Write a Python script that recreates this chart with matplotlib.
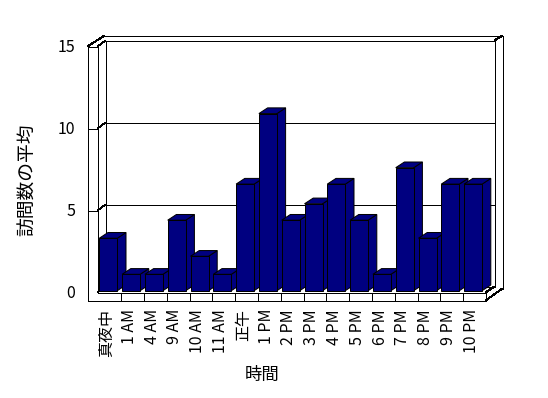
import math
import matplotlib.pyplot as plt
from matplotlib.patches import Polygon

plt.rcParams['font.family'] = ['Noto Sans CJK JP', 'DejaVu Sans']

# data
hours = ['真夜中', '1 AM', '4 AM', '9 AM', '10 AM', '11 AM', '正午', '1 PM',
         '2 PM', '3 PM', '4 PM', '5 PM', '6 PM', '7 PM', '8 PM', '9 PM', '10 PM']
visits = [3.2, 1.0, 1.0, 4.3, 2.1, 1.0, 6.5, 10.8,
          4.3, 5.3, 6.5, 4.3, 1.0, 7.5, 3.2, 6.5, 6.5]
y_ticks = [0, 5, 10, 15]

# pixel layout of the pseudo-3d frame (Excel style)
CW = 22.8      # px per category
VS = 16.4      # px per value unit
X0 = 108.3     # px of first bar front center
Y0 = 290.7     # px of bar base
HX, HY = 8.7, -5.6   # half depth offset (px)
LW = 0.72      # one pixel at 100 dpi

W, H = 548, 398
fig = plt.figure(figsize=(W / 100, H / 100), dpi=100)
ax = fig.add_axes([0, 0, 1, 1])
ax.axis('off')
ax.set_xlim((0 - X0) / CW, (W - X0) / CW)
ax.set_ylim((Y0 - H) / VS, Y0 / VS)


def P(px, py):
    return (px - X0) / CW, (Y0 - py) / VS


def snap(p):
    return math.floor(p) + 0.5


def line(pts):
    pts = [(snap(a), snap(b)) for a, b in pts]
    for (a0, b0), (a1, b1) in zip(pts[:-1], pts[1:]):
        straight = a0 == a1 or b0 == b1
        (x0, y0), (x1, y1) = P(a0, b0), P(a1, b1)
        ax.plot([x0, x1], [y0, y1], color='black', lw=LW, zorder=2,
                solid_capstyle='projecting' if straight else 'butt',
                antialiased=False)


n = len(hours)
y_front0 = 292.3               # front plane zero level
x_left_out, x_left_in = 87, 97
x_right = 97.9 + n * CW        # front right end of floor
y_floor_bot = 300


def yf(v):
    return y_front0 - VS * v


top = yf(max(y_ticks))
# walls
line([(x_left_out, top), (x_left_out, y_floor_bot)])
line([(x_left_in, top), (x_left_in, y_front0)])
line([(x_left_out, top), (x_left_in, top)])
line([(x_left_out, top), (x_left_out + 2 * HX, top + 2 * HY)])
line([(x_left_out + 2 * HX, top + 2 * HY), (x_right + 2 * HX, top + 2 * HY)])
line([(x_right + HX, top + HY), (x_right + 2 * HX, top + 2 * HY)])
line([(x_right + 2 * HX, top + 2 * HY), (x_right + 2 * HX, y_floor_bot + 2 * HY)])
line([(x_right + HX, top + HY), (x_right + HX, y_front0 + HY)])
line([(x_left_in + HX, top + HY), (x_left_in + HX, y_front0 + HY)])

# gridlines (front face, side face, back wall)
for v in y_ticks:
    y = yf(v)
    if v == 0:
        line([(x_left_in, y), (x_left_in + HX, y + HY), (x_right + HX, y + HY)])
        continue
    line([(x_left_out, y), (x_left_in, y), (x_left_in + HX, y + HY),
          (x_right + HX, y + HY)])

# floor
line([(x_left_out, y_floor_bot), (x_right, y_floor_bot)])
line([(x_left_in, y_front0), (x_right, y_front0)])
line([(x_right, y_front0), (x_right, y_floor_bot)])
line([(x_right, y_front0), (x_right + HX, y_front0 + HY)])
line([(x_right, y_floor_bot), (x_right + 2 * HX, y_floor_bot + 2 * HY)])
for k in range(1, n):
    xb = 97.9 + k * CW
    line([(xb, y_front0), (xb, y_floor_bot)])

# bars
bw = 18 / CW
dx, dy = 8.7 / CW, 5.7 / VS
navy = '#000080'
xs = list(range(n))
bars = ax.bar(xs, visits, width=bw, color=navy, edgecolor='black', linewidth=LW)
for i, (rect, v) in enumerate(zip(bars, visits)):
    x0, x1 = i - bw / 2, i + bw / 2
    z = 10 + 3 * i
    side = Polygon([(x1, 0), (x1 + dx, dy), (x1 + dx, v + dy), (x1, v)],
                   closed=True, facecolor=navy, edgecolor='black', lw=LW, zorder=z)
    topp = Polygon([(x0, v), (x0 + dx, v + dy), (x1 + dx, v + dy), (x1, v)],
                   closed=True, facecolor=navy, edgecolor='black', lw=LW, zorder=z + 1)
    ax.add_patch(side)
    ax.add_patch(topp)
    rect.set_zorder(z + 2)

# y tick labels
for v in y_ticks:
    ax.text(*P(75, yf(v) + 1), str(v), ha='right', va='center', fontsize=11.5)

# x tick labels
for i, lab in enumerate(hours):
    ax.text(i - 0.08, (Y0 - 309) / VS, lab, rotation=90, ha='center', va='top',
            fontsize=11.5)

ax.text(*P(262, 375), '時間', ha='center', va='center', fontsize=12.5)
ax.text(*P(28, 180), '訪問数の平均', rotation=90, ha='center', va='center',
        fontsize=13.5)

fig.savefig('out.png', dpi=100)
